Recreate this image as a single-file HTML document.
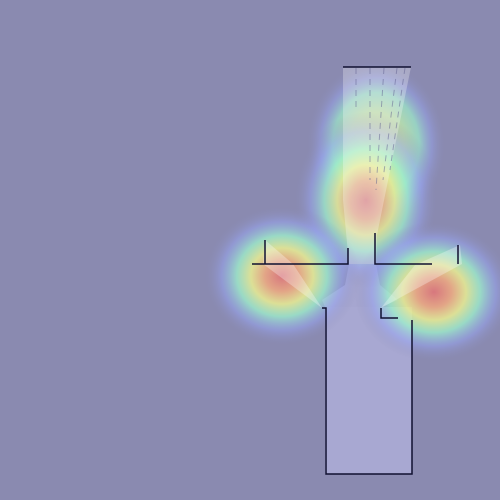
<!DOCTYPE html>
<html><head><meta charset="utf-8"><style>
html,body{margin:0;padding:0;background:#8a8ab0;}
svg{display:block;}
</style></head><body>
<svg id="chart" width="500" height="500" viewBox="0 0 500 500">
<defs>
<radialGradient id="jet">
<stop offset="0" stop-color="#e07578" stop-opacity="1"/>
<stop offset="0.22" stop-color="#eca882" stop-opacity="1"/>
<stop offset="0.4" stop-color="#eaee92" stop-opacity="0.95"/>
<stop offset="0.58" stop-color="#9ef2cc" stop-opacity="0.85"/>
<stop offset="0.78" stop-color="#98a6f4" stop-opacity="0.55"/>
<stop offset="1" stop-color="#8a8ab0" stop-opacity="0"/>
</radialGradient>
<radialGradient id="jetsoft">
<stop offset="0" stop-color="#eaee92" stop-opacity="0.95"/>
<stop offset="0.4" stop-color="#c8f0a8" stop-opacity="0.9"/>
<stop offset="0.62" stop-color="#9ef2cc" stop-opacity="0.8"/>
<stop offset="0.8" stop-color="#98a6f4" stop-opacity="0.5"/>
<stop offset="1" stop-color="#8a8ab0" stop-opacity="0"/>
</radialGradient>
</defs>
<rect x="0" y="0" width="500" height="500" fill="#8a8ab0"/>
<g>
<polygon points="349,264 376,264 380,285 398,300 381,307 325,307 322,300 345,285" fill="#a6a6d0"/>
<rect x="325" y="307" width="87" height="167" fill="#a8a8d2"/>
</g>
<g id="heat"></g>
<g>
<polygon points="343,67 411,67 377,235 376,264 349,264 343,200" fill="#ffffff" opacity="0.28"/>
<polygon points="265,240 263,264 322,308 293,264" fill="#ffffff" opacity="0.3"/>
<polygon points="460,245 462,264 381,308 415,265" fill="#ffffff" opacity="0.3"/>
<g stroke="#101030" stroke-width="1.5" fill="none">
<path d="M343,67 H411"/>
<path d="M252,264 H348 V248"/>
<path d="M375,233 V264 H432"/>
<path d="M458,245 V264"/>
<path d="M265,240 V264"/>
<path d="M322,308 H326 V474 H412 V320 M381,308 V318 H398"/>
</g>
<g stroke="#606090" stroke-width="1" stroke-dasharray="6,5" opacity="0.5">
<path d="M356,68 V110"/><path d="M370,68 V180"/><path d="M384,68 L376,190"/><path d="M397,68 L383,180"/><path d="M405,68 L390,170"/>
</g>
</g>
</svg>
<script>
// heat blobs: centre x, centre y, radius x, radius y, intensity
const blobX = [376, 366, 282, 434];
const blobY = [145, 200, 276, 292];
const blobRX = [70, 72, 78, 80];
const blobRY = [85, 88, 70, 70];
const blobIntensity = [0.85, 0.85, 0.9, 0.9];
const blobFill = ['url(#jetsoft)', 'url(#jet)', 'url(#jet)', 'url(#jet)'];
const g = document.getElementById('heat');
const ns = 'http://www.w3.org/2000/svg';
for (let i = 0; i < blobX.length; i++) {
  const e = document.createElementNS(ns, 'ellipse');
  
  
  e.setAttribute('cx', blobX[i]);
  e.setAttribute('cy', blobY[i]);
  e.setAttribute('rx', blobRX[i]);
  e.setAttribute('ry', blobRY[i]);
  e.setAttribute('fill', blobFill[i]);
  e.setAttribute('opacity', blobIntensity[i]);
  g.appendChild(e);
}
</script>
</body></html>
